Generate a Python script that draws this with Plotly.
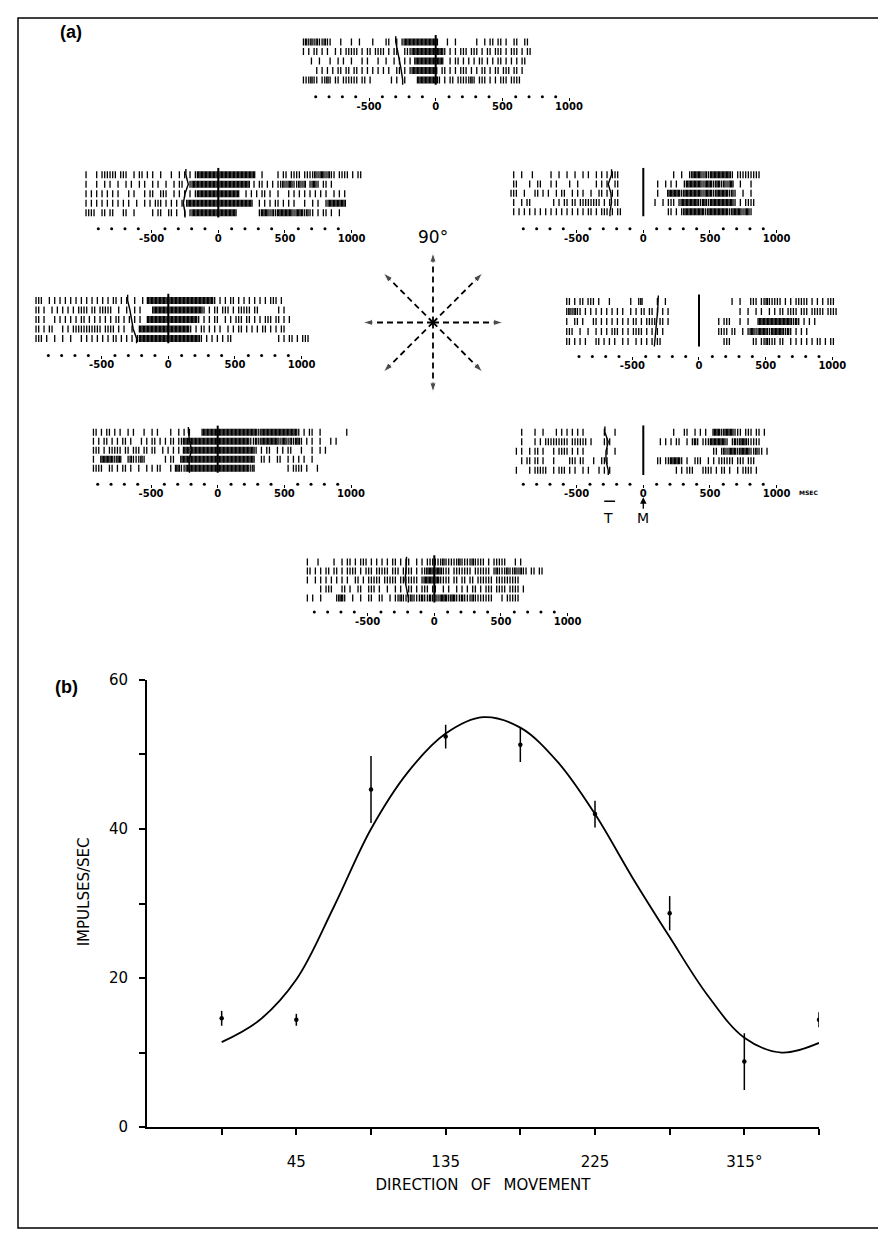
import numpy as np
import plotly.graph_objects as go

# The figure sits inside the page body (8 px margin); positions below are given in
# page pixels of the reference and converted with fx / fy.
PAGE_W, PAGE_H = 886, 1246
FW, FH = 870, 1230
Y_OFF, Y_SCALE = 16, 0.987


def fx(px):
    return (px - 8) / FW


def fy(py):
    return 1 - ((py - Y_OFF) / Y_SCALE) / FH


# ---------------- Panel (a): spike rasters ----------------
# each character = one 20 ms bin starting at -1000 ms
# '|' = one spike, '#' = two spikes (dense burst), ' ' = none
BIN_MS = 20
START_MS = -1000

RASTER_90 = [
    ["|#|#|#||#|", "|   |   | ", " |    |   ", " ||  | |##", "##########", "#   |  |  ", "     |  | ", "|| || |  |", "|  ||"],
    ["| | || | |", "  | | ||||", "| | || |||", "| | ||  ||", "|#########", "###| | | |", "|| ||| | |", "| ||| | ||", "| | ||"],
    ["   |  |   ", "|  | |  | ", "  | |   | ", " |  | | | ", "| ########", "###  | || ", "| | | || |", " | || | | ", "| ||"],
    ["     | | |", " | || || |", "| | | | | ", "| |  || | ", "|#########", "| || | | |", "|| | | || ", "| || ||| |", "| |"],
    ["|||#|| ||#", "| || |||||", "| || |    ", "   | |  | ", "   #######", "#| | || ||", "|||#| ||| ", "| | ||| ||", "||"],
]
RASTER_135 = [
    ["|   | ||||", "|| |||  | ", "|| | |  | ", "  |  | | |", " |########", "##########", "####  |   ", "  | || |||", "| ||||#|##", "|#|| |||| ", "| ||"],
    ["|   |  | |", "  |  | |  ", "| |  | |  ", "|  | ||  |", "##########", "##########", "## | || | ", "| ||#|##||", "#|# |##| |", "| |"],
    ["| | | | | ", "| |   | | ", "  | ||  ||", "|  | | | |", " |########", "########  ", "| | | || |", "  |   | | ", "| | | | | ", "|  | | |"],
    ["| | | | | ", "| | | |  |", "  | | ||| ", "| | | | ##", "##########", "##########", "###  | | |", " || | | | ", "  |  | |  ", "|####### "],
    ["||||  || |", "|   ||  | ", "     | || ", " || |  | |", "##########", "#######   ", "     |###|", "#|######|#", "##|#|| | |", "| |  |"],
]
RASTER_45 = [
    [" |  |   | ", "     |  | ", " |  |  | |", "  | | | ||", "|         ", "          ", " |  |  |##", "##|#|#####", "###| |||||", "||||"],
    [" ||    |  ", "||   | |  ", "  |  |    ", "  | | |  |", "|         ", "     |  | ", "| |  |####", "##|###|##|", "#|##  |   ", "|"],
    ["|||  |   |", "| | |  | |", "|  | | |  ", "|  || | | ", "|         ", "     |   #", "####|#####", "##|###|###", "##|#|  |  ", "|"],
    [" |  | ||  ", "      | | ", "|| || ||||", "|||| | | |", "|         ", "    |  | |", "|| |######", "#|##|#####", "####| | ||", "||"],
    [" | | | | |", " | | | | |", " | | | | |", "| | ||| | ", "||        ", "         |", "| | |#####", "###|######", "##|####|##", "|"],
]
RASTER_180 = [
    ["|||  | | |", " | | | | |", " | | | | |", "| | |  |  ", "| ########", "##########", "#######| |", " | || | | ", "| | | | ||", "| |"],
    ["|| |  | | ", "| | | ||||", " || ||||| ", " |  |  | |", "    ######", "##########", "###| | || ", "||| | ||||", "| ||      ", " | |"],
    ["|| |   | |", " | | | || ", "| | | | | ", "|| | | | |", "  ########", "##########", "#| | | || ", " | | ||| |", "| | | ||| ", "|| | |"],
    ["|| | ||   ", "| | ||||||", "||||| ||||", " | |  |  #", "##########", "########| ", "| || | | |", "  | | || |", " | | || | ", "| ||"],
    ["||| |  |  ", "|  |   | |", " | | | | |", "| | | | |#", "##########", "##########", "##| | | | ", "| ||      ", "          ", " | | || | ", "||| "],
]
RASTER_0 = [
    ["|| | || ||", "| |   |   ", "    |  |# ", "    |  |  ", "          ", "          ", "  |  |   |", "|| ||#||||", "| | | ||||", "| | | | ||", "|"],
    ["|#|#|| | |", " | | | | |", " |  | | ||", " || | | | ", "          ", "          ", "     |  | ", " | |  | | ", "|| |||| ||", "| ||||| ||", "||"],
    ["|  || |   ", "|| | | | |", " | | || | ", "|||| || | ", "          ", "       | |", "||   |  | ", "  ########", "#####|#| |", " | |"],
    ["|||  |  | ", " | | | |||", " | | |||| ", "| | | |   ", "          ", "       |||", "| ||  | |#", "#|####|###", "##|#| | | ", "| "],
    ["|| | | |  ", " || | | | ", " | |  | | ", "| | ||    ", "          ", "         |", "||        ", "|| ||#||| ", "||  | | | ", "| | || | |", "| "],
]
RASTER_225 = [
    ["   || | ||", " | |  | | ", "  |  | |  ", "  |  | | |", "    ######", "##########", "#####|####", "##########", "| | ||  | ", "        | "],
    ["   | | || ", "| | || |  ", " | | || | ", "| || ||###", "##########", "##########", "##||#|####", "###|##|#|#", "#| | |  | ", "  | |"],
    ["   ||| | |", "|||| || ||", "| || ||  |", " | | | ###", "##########", "##########", "####| | ||", "  | | ||  ", " |   |  | ", "|"],
    ["   |  ####", "#|##  |#||", "|#|       ", "| ||  ####", "##########", "##########", "####  || |", "  ||  | | ", "| |  |"],
    ["   ||||  |", "| | || |  ", "|  | | || ", "  | ##||##", "##########", "##########", "##|#      ", "      | ||", "|| |   |  "],
]
RASTER_315 = [
    ["    |    |", "  |    | |", " | | | |  ", "     |   |", "          ", "          ", " |   ||  |", " | |  ###|", "####||| ||", "| || | "],
    ["    |    |", " | |||||||", "|| |||||| ", "|    |||  ", "          ", "      | | ", "| ||  | |#", "| |||#####", "#| |#|###|", "|||| "],
    ["  | |  | |", "| |   | ||", "|| | | |  ", "      |  |", "          ", "          ", "          ", "      || |", "#|###|####", "||#|| |"],
    ["    | || |", "| |   |   ", "  ||| ||  ", " |  |||   ", "          ", "     || ||", "####| |  |", "||  | | ||", "|||| ||| |", "|| "],
    ["  |    | |", "||||  | ||", "| | |  | |", "   | | |  ", "          ", "          ", "  | | ||| ", "  |||| | |", "| |  | |||", "| |"],
]
RASTER_270 = [
    ["  |   |   ", "  |  | || ", "| ||| | | ", "| | || | |", "|  | | |||", "|||#|||||#", "||||#|||| ", "| |||||   ", "| |"],
    ["  || | | |", "| || | |||", "| | ||| ||", "||| ||| ||", "|| | ||###", "###||| |||", "|||| |||||", "| |#|||#||", "#|#|| || |", "|"],
    ["  |  | | |", " | | | |  ", "|| | |||||", " ||||| |||", "|||| |####", "##|||| || ", "|| || ||||", "|| |||||||", "||  "],
    ["       | |", "||   || | ", " ||  ||| |", "  |  | |  ", "|| | ||| |", "|  | |  | ", "| | || | |", "|| |||| ||", "|| |"],
    ["  | |  |  ", "   |##|  |", "  |  ||  |", "|  | ||#||", "|#|||#||#|", "#|###|##||", "#|||#|||||", "||   | |||", "|| "],
]

RASTERS = {90: RASTER_90, 135: RASTER_135, 45: RASTER_45, 180: RASTER_180,
           0: RASTER_0, 225: RASTER_225, 315: RASTER_315, 270: RASTER_270}

# target onset (T) per trial, ms relative to movement onset (M = 0)
TARGET_ONSET_MS = {
    90: [-300, -285, -270, -258, -248],
    135: [-243, -225, -250, -262, -250],
    45: [-238, -263, -243, -238, -250],
    180: [-305, -288, -275, -263, -238],
    0: [-305, -310, -318, -325, -335],
    225: [-220, -210, -195, -215, -212],
    315: [-288, -263, -280, -280, -263],
    270: [-208, -213, -220, -208, -195],
}

TIME_DOTS_MS = [-900, -800, -700, -600, -400, -300, -200, -100,
                100, 200, 300, 400, 600, 700, 800, 900]
TIME_TICKS_MS = [-500, 0, 500, 1000]
TIME_TICK_LABELS = ["-500", "0", "500", "1000"]

ARROW_DIRECTIONS_DEG = [0, 45, 90, 135, 180, 225, 270, 315]

# ---------------- Panel (b): directional tuning ----------------
DIRECTION_DEG = [0, 45, 90, 135, 180, 225, 270, 315, 360]
RATE = [14.6, 14.4, 45.3, 52.4, 51.3, 42.0, 28.7, 8.8, 14.4]
RATE_ERR = [1.0, 0.8, 4.5, 1.6, 2.3, 1.8, 2.3, 3.8, 1.0]
FIT_DIRECTION_DEG = [0, 22.5, 45, 67.5, 90, 112.5, 135, 157.5, 180,
                     202.5, 225, 247.5, 270, 292.5, 315, 337.5, 360]
FIT_RATE = [11.4, 14.3, 19.8, 29.5, 40.0, 47.7, 52.8, 55.0, 53.6,
            49.0, 42.0, 33.5, 25.5, 17.8, 12.0, 10.0, 11.3]
X_TICKS_DEG = [0, 45, 90, 135, 180, 225, 270, 315, 360]
X_TICK_LABELS = ["", "45", "", "135", "", "225", "", "315°", ""]
Y_TICKS = [0, 10, 20, 30, 40, 50, 60]
Y_TICK_LABELS = ["0", "", "20", "", "40", "", "60"]


def spike_times(row_chunks):
    times = []
    for k, chunk in enumerate(row_chunks):
        chunk = chunk.ljust(10)[:10]
        for j, ch in enumerate(chunk):
            t = START_MS + (k * 10 + j) * BIN_MS
            if ch == "|":
                times.append(t + 8)
            elif ch == "#":
                times.extend([t + 3, t + 13])
    return times


# layout anchors in page pixels: (x of 0 ms, y of first row, y of fifth row, y of dot row)
GEO = {
    90: (435.7, 41, 79, 96),
    135: (218.3, 174, 212, 228),
    45: (643.3, 174, 211, 228),
    180: (168.3, 300, 338, 355),
    0: (699.0, 301, 341, 356),
    225: (217.7, 432, 468, 484),
    315: (643.3, 432, 470, 484),
    270: (434.3, 562, 598, 612),
}
ORDER = [90, 135, 45, 180, 0, 225, 315, 270]
PX_PER_MS = 0.13333
X_MIN, X_MAX = -1100, 1200

fig = go.Figure()
layout = {}
annotations = []
BLACK = "black"
raster_tick_font = dict(family="DejaVu Sans", size=10, color=BLACK, weight="bold")

for i, d in enumerate(ORDER, start=1):
    x0, y1, y5, yd = GEO[d]
    s = (y5 - y1) / 4.0
    top = y1 - 7
    bot = 530 if d == 315 else yd + 3

    def v(px, y1=y1, s=s):
        return -(px - y1) / s

    xa = "x" if i == 1 else f"x{i}"
    ya = "y" if i == 1 else f"y{i}"
    xs, ys = [], []
    for r, row in enumerate(RASTERS[d]):
        t = spike_times(row)
        xs += t
        ys += [-r] * len(t)
    fig.add_trace(go.Scatter(x=xs, y=ys, mode="markers", xaxis=xa, yaxis=ya,
                             marker=dict(symbol="line-ns", size=5, color=BLACK,
                                         line=dict(width=1.3, color=BLACK)),
                             hoverinfo="skip", showlegend=False))
    # movement onset line
    fig.add_trace(go.Scatter(x=[0, 0], y=[0.75, -4.5], mode="lines", xaxis=xa, yaxis=ya,
                             line=dict(color=BLACK, width=2), hoverinfo="skip", showlegend=False))
    # target onset line
    T = TARGET_ONSET_MS[d]
    fig.add_trace(go.Scatter(x=[T[0]] + T + [T[-1]], y=[0.6, 0, -1, -2, -3, -4, -4.5],
                             mode="lines", xaxis=xa, yaxis=ya,
                             line=dict(color=BLACK, width=1.4), hoverinfo="skip", showlegend=False))
    # time axis dots
    fig.add_trace(go.Scatter(x=TIME_DOTS_MS, y=[v(yd)] * len(TIME_DOTS_MS), mode="markers",
                             xaxis=xa, yaxis=ya, cliponaxis=False,
                             marker=dict(size=3, color=BLACK), hoverinfo="skip", showlegend=False))
    xkey = "xaxis" if i == 1 else f"xaxis{i}"
    ykey = "yaxis" if i == 1 else f"yaxis{i}"
    layout[xkey] = dict(domain=[fx(x0 + X_MIN * PX_PER_MS), fx(x0 + X_MAX * PX_PER_MS)],
                        range=[X_MIN, X_MAX], anchor="free", position=fy(yd),
                        showgrid=False, zeroline=False, showline=False,
                        tickvals=TIME_TICKS_MS, ticktext=TIME_TICK_LABELS,
                        ticks="outside", ticklen=3, tickwidth=1.2, tickcolor=BLACK,
                        ticklabelstandoff=-3, tickfont=raster_tick_font)
    layout[ykey] = dict(domain=[fy(bot), fy(top)], range=[v(bot), v(top)],
                        visible=False, anchor=xa)

    if d == 315:
        # T bar, T label, M arrow and MSEC label
        fig.add_trace(go.Scatter(x=[-293, -212], y=[v(501), v(501)], mode="lines",
                                 xaxis=xa, yaxis=ya, line=dict(color=BLACK, width=1.5),
                                 hoverinfo="skip", showlegend=False))
        annotations.append(dict(x=-262, y=v(518), xref=xa, yref=ya, text="T", showarrow=False,
                                xanchor="center", yanchor="middle",
                                font=dict(family="DejaVu Sans", size=14, color=BLACK)))
        annotations.append(dict(x=0, y=v(497), xref=xa, yref=ya, text="M", showarrow=True,
                                ax=0, ay=21, arrowhead=2, arrowsize=1, arrowwidth=1.3,
                                arrowcolor=BLACK,
                                font=dict(family="DejaVu Sans", size=14, color=BLACK)))
        annotations.append(dict(x=1150, y=v(492), xref=xa, yref=ya, text="MSEC",
                                showarrow=False, xanchor="left", yanchor="middle",
                                font=dict(family="DejaVu Sans", size=6, color=BLACK,
                                          weight="bold")))

# ---------------- centre direction arrows ----------------
cx, cy, half, rad = 433, 322, 80, 70
for d in ARROW_DIRECTIONS_DEG:
    a = np.radians(d)
    fig.add_trace(go.Scatter(x=[0, np.cos(a)], y=[0, np.sin(a)], mode="lines+markers",
                             xaxis="x9", yaxis="y9",
                             line=dict(color=BLACK, width=1.8, dash="6px,4px"),
                             marker=dict(symbol=["circle", "arrow"], size=[0, 10],
                                         angleref="previous", color=BLACK),
                             hoverinfo="skip", showlegend=False))
lim = half / rad
layout["xaxis9"] = dict(domain=[fx(cx - half), fx(cx + half)], range=[-lim, lim],
                        visible=False, anchor="y9")
layout["yaxis9"] = dict(domain=[fy(cy + half), fy(cy - half)], range=[-lim, lim],
                        visible=False, anchor="x9")
annotations.append(dict(x=0, y=1.05, xref="x9", yref="y9", text="90°", showarrow=False,
                        xanchor="center", yanchor="bottom",
                        font=dict(family="DejaVu Sans", size=17, color=BLACK)))
annotations.append(dict(x=1.22, y=0, xref="x9", yref="y9", text="0°", showarrow=False,
                        xanchor="left", yanchor="middle",
                        font=dict(family="DejaVu Sans", size=17, color=BLACK)))

# ---------------- panel (b) ----------------
fig.add_trace(go.Scatter(x=FIT_DIRECTION_DEG, y=FIT_RATE, mode="lines", xaxis="x10", yaxis="y10",
                         line=dict(color=BLACK, width=1.8, shape="spline", smoothing=1.0),
                         hoverinfo="skip", showlegend=False))
fig.add_trace(go.Scatter(x=DIRECTION_DEG, y=RATE, mode="markers", xaxis="x10", yaxis="y10",
                         marker=dict(size=4.5, color=BLACK),
                         error_y=dict(type="data", array=RATE_ERR, width=0, thickness=1.5,
                                      color=BLACK),
                         hoverinfo="skip", showlegend=False))
axis_font = dict(family="DejaVu Sans", size=15, color=BLACK)
layout["xaxis10"] = dict(domain=[fx(147), fx(819)], range=[-45, 360], anchor="y10",
                         showgrid=False, zeroline=False, showline=True, linecolor=BLACK,
                         linewidth=1.8, tickvals=X_TICKS_DEG, ticktext=X_TICK_LABELS,
                         ticks="outside", ticklen=6, tickwidth=1.5, tickcolor=BLACK,
                         tickfont=axis_font, ticklabelstandoff=14,
                         title=dict(text="DIRECTION\u2002 OF\u2002 MOVEMENT",
                                    font=dict(family="DejaVu Sans", size=15, color=BLACK),
                                    standoff=9))
layout["yaxis10"] = dict(domain=[fy(1128), fy(680)], range=[0, 60], anchor="x10",
                         showgrid=False, zeroline=False, showline=True, linecolor=BLACK,
                         linewidth=1.8, tickvals=Y_TICKS, ticktext=Y_TICK_LABELS,
                         ticks="outside", ticklen=6, tickwidth=1.5, tickcolor=BLACK,
                         tickfont=axis_font, ticklabelstandoff=8)
annotations.append(dict(x=fx(84), y=31.5, xref="paper", yref="y10", text="IMPULSES/SEC",
                        textangle=-90, showarrow=False, xanchor="center", yanchor="middle",
                        font=dict(family="DejaVu Sans", size=15, color=BLACK)))

annotations.append(dict(x=fx(71), y=fy(31), xref="paper", yref="paper", text="<b>(a)</b>",
                        showarrow=False, xanchor="center", yanchor="middle",
                        font=dict(family="Liberation Sans", size=18, color=BLACK)))
annotations.append(dict(x=fx(66), y=fy(687), xref="paper", yref="paper", text="<b>(b)</b>",
                        showarrow=False, xanchor="center", yanchor="middle",
                        font=dict(family="Liberation Sans", size=18, color=BLACK)))

fig.update_layout(**layout)
fig.update_layout(
    width=FW, height=FH, margin=dict(l=0, r=0, t=0, b=0),
    paper_bgcolor="white", plot_bgcolor="white", showlegend=False,
    annotations=annotations,
    shapes=[dict(type="rect", xref="paper", yref="paper",
                 x0=fx(18), x1=fx(880), y0=1 / FH, y1=1 - 1 / FH,
                 line=dict(color=BLACK, width=1.5))],
)
fig.write_html("out.html")
